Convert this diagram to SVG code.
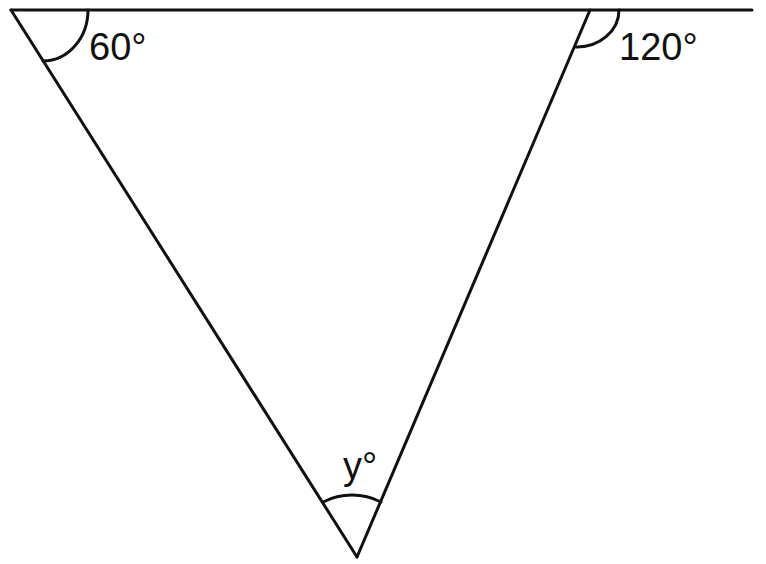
<svg xmlns="http://www.w3.org/2000/svg" width="766" height="564" viewBox="0 0 766 564">
<style>
.ln{fill:none;stroke:#111;stroke-width:3;stroke-linecap:round;stroke-linejoin:round}
.lbl{font-family:"Liberation Sans",Arial,sans-serif;font-size:38px;fill:#111}
</style>
<rect width="766" height="564" fill="#fff"/>
<g id="connectors">
<line class="ln" x1="11" y1="10" x2="752" y2="10"/>
<line class="ln" x1="11" y1="10" x2="357" y2="557"/>
<line class="ln" x1="590" y1="10" x2="357" y2="557"/>
</g>
<g id="angle-60">
<path class="ln" d="M88,10 A45,51 0 0 1 43,61"/>
<text class="lbl" x="89" y="60">60°</text>
</g>
<g id="angle-120">
<path class="ln" d="M619,10 A42,37 0 0 1 576,47"/>
<text class="lbl" x="619" y="60">120°</text>
</g>
<g id="angle-y">
<path class="ln" d="M323,502 A64,64 0 0 1 381,502"/>
<text class="lbl" x="343" y="479">y°</text>
</g>
</svg>
